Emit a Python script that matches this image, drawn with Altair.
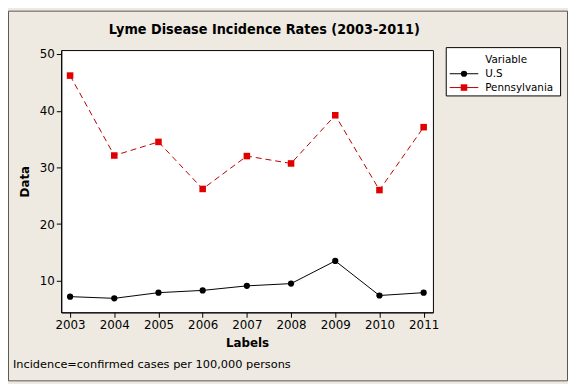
import altair as alt
import pandas as pd

years = [2003, 2004, 2005, 2006, 2007, 2008, 2009, 2010, 2011]
us = [7.2, 6.9, 7.9, 8.3, 9.1, 9.5, 13.5, 7.4, 7.9]
pa = [46.2, 32.1, 34.5, 26.2, 32.0, 30.7, 39.2, 26.0, 37.1]
series_names = ["U.S", "Pennsylvania"]
series_colors = ["#000000", "#E00000"]
line_colors = ["#000000", "#B80000"]
y_ticks = [10, 20, 30, 40, 50]
title_text = "Lyme Disease Incidence Rates (2003-2011)"
note_text = "Incidence=confirmed cases per 100,000 persons"
legend_title = "Variable"

FONT = "DejaVu Sans"
TFONT = "DejaVu Sans Condensed, DejaVu Sans"
BG = "#EEEAE1"

rows = []
for y, a, b in zip(years, us, pa):
    rows.append({"year": y, "value": a, "series": series_names[0]})
    rows.append({"year": y, "value": b, "series": series_names[1]})
df = pd.DataFrame(rows)

W, H = 377, 266
PL, PT = 54, 40
TOTAL_W, TOTAL_H = 568, 376

x_enc = alt.X("year:Q", scale=alt.Scale(domain=[2002.8, 2011.21], nice=False, zero=False),
              axis=alt.Axis(values=years, format="d", title="Labels", titleFontWeight="bold",
                            titlePadding=8))
y_enc = alt.Y("value:Q", scale=alt.Scale(domain=[4.43, 50.7], nice=False, zero=False),
              axis=alt.Axis(values=y_ticks, title="Data", titleFontWeight="bold", titlePadding=8))

base = alt.Chart(df)

us_line = base.transform_filter(alt.datum.series == series_names[0]).mark_line(
    color=line_colors[0], strokeWidth=1).encode(x=x_enc, y=y_enc)
us_pts = base.transform_filter(alt.datum.series == series_names[0]).mark_point(
    shape="circle", filled=True, size=40, color=series_colors[0], opacity=1).encode(x=x_enc, y=y_enc)
pa_line = base.transform_filter(alt.datum.series == series_names[1]).mark_line(
    color=line_colors[1], strokeWidth=1, strokeDash=[6, 4]).encode(x=x_enc, y=y_enc)
pa_pts = base.transform_filter(alt.datum.series == series_names[1]).mark_point(
    shape="square", filled=True, size=44, color=series_colors[1], opacity=1).encode(x=x_enc, y=y_enc)

one = pd.DataFrame({"t": [0]})

# outer frame
frame = alt.Chart(one).mark_rect(fill=None, stroke="#555555", strokeWidth=1, clip=False).encode(
    x=alt.value(-PL + 0.5), x2=alt.value(TOTAL_W - PL - 0.5),
    y=alt.value(-PT + 0.5), y2=alt.value(TOTAL_H - PT - 0.5))

title = alt.Chart(pd.DataFrame({"t": [title_text]})).mark_text(
    font=TFONT, fontSize=14.5, fontWeight="bold", color="#000000", align="center", baseline="middle"
).encode(text="t:N", x=alt.value(206), y=alt.value(-20))

note = alt.Chart(pd.DataFrame({"t": [note_text]})).mark_text(
    font=FONT, fontSize=11.5, color="#000000", align="left", baseline="middle"
).encode(text="t:N", x=alt.value(-49), y=alt.value(319))

# legend
leg_box = alt.Chart(one).mark_rect(fill="white", stroke="black", strokeWidth=1).encode(
    x=alt.value(390.5), x2=alt.value(506.5), y=alt.value(-2.5), y2=alt.value(46.5))
leg_title = alt.Chart(pd.DataFrame({"t": [legend_title]})).mark_text(
    font=FONT, fontSize=10.5, color="black", align="left", baseline="middle"
).encode(text="t:N", x=alt.value(430), y=alt.value(10))

legend_layers = [leg_box, leg_title]
shapes = ["circle", "square"]
sizes = [40, 44]
for i, name in enumerate(series_names):
    yy = 24 + 14 * i
    legend_layers.append(alt.Chart(one).mark_rule(color=line_colors[i], strokeWidth=1).encode(
        x=alt.value(394), x2=alt.value(423), y=alt.value(yy)))
    legend_layers.append(alt.Chart(one).mark_point(
        shape=shapes[i], filled=True, size=sizes[i], color=series_colors[i], opacity=1).encode(
        x=alt.value(408.5), y=alt.value(yy)))
    legend_layers.append(alt.Chart(pd.DataFrame({"t": [name]})).mark_text(
        font=FONT, fontSize=10.5, color="black", align="left", baseline="middle").encode(
        text="t:N", x=alt.value(430), y=alt.value(yy)))

chart = alt.layer(
    us_line, us_pts, pa_line, pa_pts, frame, title, note, *legend_layers
).properties(
    width=W, height=H,
    autosize=alt.AutoSizeParams(type="none"),
    padding={"left": PL, "top": PT, "right": TOTAL_W - PL - W, "bottom": TOTAL_H - PT - H},
    background=BG,
).configure_view(
    stroke="black", strokeWidth=1, fill="white"
).configure_axis(
    labelFont=FONT, labelFontSize=12, labelColor="black",
    titleFont=FONT, titleFontSize=12, titleColor="black",
    domainColor="black", tickColor="black", tickSize=5, labelPadding=2, grid=False,
)

chart.save("out.html", embed_options={"renderer": "svg", "actions": False})
